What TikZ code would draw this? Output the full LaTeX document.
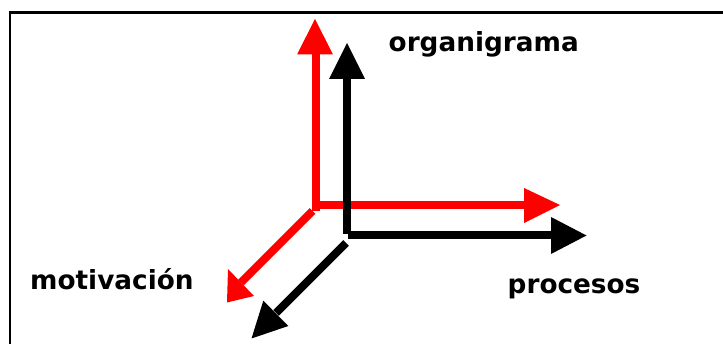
\documentclass[tikz,border=0pt]{standalone}
\usepackage{fontspec}
\setmainfont{DejaVu Sans}
\begin{document}
\begin{tikzpicture}[x=1pt,y=-1pt,
  shaft/.style={line width=8pt,line cap=butt},
  lbl/.style={anchor=base west,inner sep=0pt,font=\fontsize{26.3}{30}\selectfont\bfseries}]
\useasboundingbox (0,0) rectangle (723,344);
% frame
\draw[line width=2.5pt] (10,350) -- (10,12.7) -- (730,12.7);
% red axes
\coordinate (ro) at (315.5,211);
\coordinate (rtop) at (315.5,54);
\coordinate (rh0) at (320,205);
\coordinate (rh1) at (524,205);
\coordinate (rd0) at (312.5,211);
\coordinate (rd1) at (241,282.5);
\draw[shaft,red] (ro) -- (rtop);
\fill[red] (297,54.5) -- (333,54.5) -- (315,19) -- cycle;
\draw[shaft,red] (rh0) -- (rh1);
\fill[red] (524,188) -- (524,223) -- (560,205) -- cycle;
\draw[shaft,red] (rd0) -- (rd1);
\fill[red] (228,269) -- (254,296) -- (227,302.5) -- cycle;
% black axes
\coordinate (bo) at (347,234);
\coordinate (btop) at (347,78.5);
\coordinate (bh0) at (347.5,235.5);
\coordinate (bh1) at (551,235.5);
\coordinate (bd0) at (346,243);
\coordinate (bd1) at (276,313);
\draw[shaft,black] (bo) -- (btop);
\fill[black] (329,79) -- (365,79) -- (347,43) -- cycle;
\draw[shaft,black] (bh0) -- (bh1);
\fill[black] (551,217) -- (551,254) -- (586.5,235.5) -- cycle;
\draw[shaft,black] (bd0) -- (bd1);
\fill[black] (263.3,300.7) -- (288.3,326) -- (251.5,338.5) -- cycle;
% labels
\node[lbl] (org) at (388.5,51.7) {organigrama};
\node[lbl] (mot) at (30,290) {motivación};
\node[lbl] (pro) at (507.5,293.3) {procesos};
\end{tikzpicture}
\end{document}
